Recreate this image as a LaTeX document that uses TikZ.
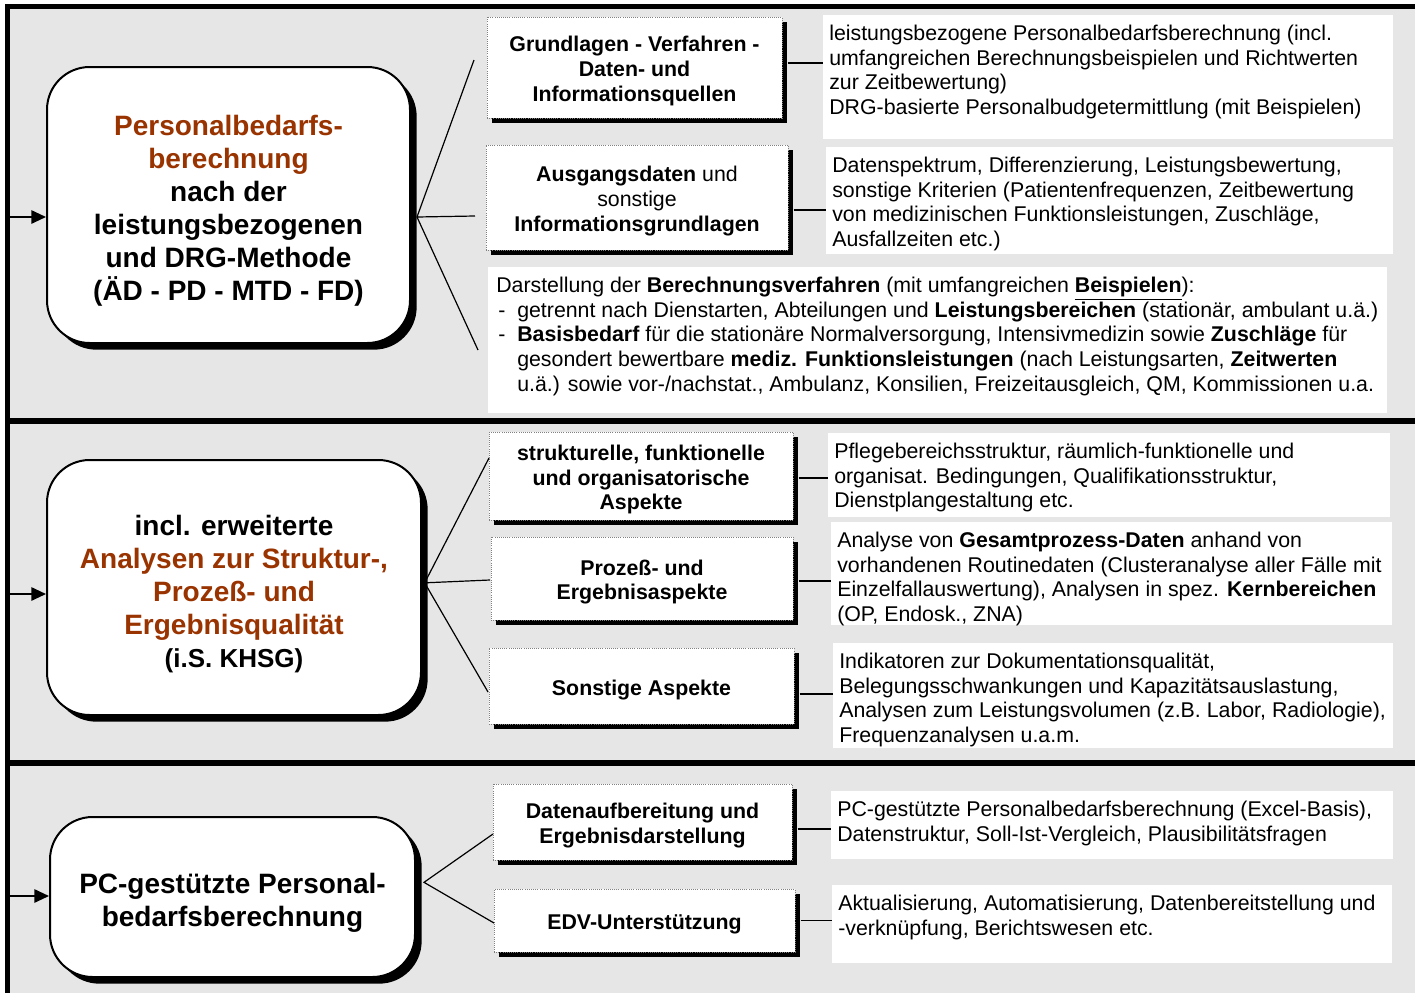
\documentclass[tikz,border=0pt]{standalone}
\usepackage{fontspec}
\setmainfont{Liberation Sans}
\usetikzlibrary{arrows.meta,shadows}
\definecolor{rust}{RGB}{153,51,0}
\definecolor{bandgray}{RGB}{230,230,230}
\newcommand{\bigtext}{\fontsize{21}{24.75}\selectfont\bfseries}
\newcommand{\smalltext}{\fontsize{16}{18.5}\selectfont}
\newcommand{\infotext}[3]{\parbox[c][#1][t]{#2}{\raggedright\rule{0pt}{19pt}#3}}
\newcommand{\listdash}{\makebox[17.25pt][l]{\hspace{3pt}-}}
\newcommand{\listind}{\hspace*{17.25pt}}
\newcommand{\boxtop}{\rule{0pt}{24.5pt}}
\newcommand{\topictop}{\rule{0pt}{17pt}}

\begin{document}
\begin{tikzpicture}[x=0.75pt, y=-0.75pt,
  mainbox/.style={draw, line width=1.5pt, fill=white, rounded corners=32pt,
    align=center, font=\bigtext,
    drop shadow={shadow xshift=5pt, shadow yshift=-5pt, fill=black, opacity=1}},
  topicbox/.style={draw=gray, densely dotted, line width=0.6pt, fill=white,
    align=center, font=\smalltext\bfseries,
    drop shadow={shadow xshift=4pt, shadow yshift=-4pt, fill=black, opacity=1}},
  infobox/.style={fill=white, anchor=north west, inner xsep=4.5pt, inner ysep=0pt,
    font=\smalltext},
  bandline/.style={line width=4pt},
  fanline/.style={line width=0.9pt},
  linkline/.style={line width=1.4pt},
  inarrow/.style={line width=1.4pt, -{Triangle[length=11pt,width=10pt]}}]

  \useasboundingbox (0,0) rectangle (1415,993);
  \fill[bandgray] (7.5,6.5) rectangle (1415,993);
  \draw[bandline] (5,6.5) -- (1415,6.5);
  \draw[bandline] (7.5,4) -- (7.5,993);
  \foreach \y in {421,763}
    \draw[bandline] (7.5,\y) -- (1415,\y);

  % band 1
  \node[mainbox, minimum width=272.25pt, minimum height=207pt] (pbox) at (228.5,205)
    {\boxtop\textcolor{rust}{Personalbedarfs-}\\\textcolor{rust}{berechnung}\\nach der\\leistungsbezogenen\\und DRG-Methode\\(ÄD - PD - MTD - FD)};
  \node[topicbox, minimum width=221.25pt, minimum height=75.75pt] (grundlagen) at (634.5,67.5)
    {\topictop Grundlagen - Verfahren -\\Daten- und\\Informationsquellen};
  \node[topicbox, minimum width=226.5pt, minimum height=78.75pt] (ausgang) at (637,197.5)
    {\topictop Ausgangsdaten \textmd{und}\\\textmd{sonstige}\\Informationsgrundlagen};
  \node[infobox] (grundlagentxt) at (823,15) {\infotext{93pt}{418.5pt}{leistungsbezogene Personalbedarfsberechnung (incl.\\umfangreichen Berechnungsbeispielen und Richtwerten\\zur Zeitbewertung)\\DRG-basierte Personalbudgetermittlung (mit Beispielen)}};
  \node[infobox] (ausgangtxt) at (826,147) {\infotext{80.25pt}{416.25pt}{Datenspektrum, Differenzierung, Leistungsbewertung,\\sonstige Kriterien (Patientenfrequenzen, Zeitbewertung\\von medizinischen Funktionsleistungen, Zuschläge,\\Ausfallzeiten etc.)}};
  \node[infobox] (verfahrentxt) at (488,267) {\infotext{109.5pt}{665.25pt}{\hspace*{1.5pt}Darstellung der \textbf{Berechnungsverfahren} (mit umfangreichen \underline{\textbf{Beispielen}}):\\
    \listdash getrennt nach Dienstarten, Abteilungen und \textbf{Leistungsbereichen} (stationär, ambulant u.ä.)\\
    \listdash\textbf{Basisbedarf} für die stationäre Normalversorgung, Intensivmedizin sowie \textbf{Zuschläge} für\\
    \listind gesondert bewertbare \textbf{mediz. Funktionsleistungen} (nach Leistungsarten, \textbf{Zeitwerten}\\
    \listind u.ä.) sowie vor-/nachstat., Ambulanz, Konsilien, Freizeitausgleich, QM, Kommissionen u.a.}};

  \coordinate (pin) at (7.5,217);
  \coordinate (pfan) at ([xshift=4.5pt,yshift=-9pt]pbox.east);
  \coordinate (pf1) at (474,60);
  \coordinate (pf2) at (475,216);
  \coordinate (pf3) at (478,350);
  \draw[inarrow] (pin) -- (pin -| pbox.west);
  \draw[fanline] (pf1) -- (pfan) -- (pf3) (pfan) -- (pf2);
  \draw[linkline] ([xshift=4pt,yshift=3.4pt]grundlagen.east) -- ([yshift=3.4pt]grundlagen.east -| grundlagentxt.west);
  \draw[linkline] ([xshift=4pt,yshift=-9.4pt]ausgang.east) -- ([yshift=-9.4pt]ausgang.east -| ausgangtxt.west);

  % band 2
  \node[mainbox, minimum width=280.5pt, minimum height=191.25pt] (abox) at (234,587.5)
    {\boxtop incl. erweiterte\\\textcolor{rust}{Analysen zur Struktur-,}\\\textcolor{rust}{Prozeß- und}\\\textcolor{rust}{Ergebnisqualität}\\{\fontsize{19.5}{24.75}\selectfont (i.S. KHSG)}};
  \node[topicbox, minimum width=228pt, minimum height=66pt] (strukturell) at (641,476)
    {\topictop strukturelle, funktionelle\\und organisatorische\\Aspekte};
  \node[topicbox, minimum width=226.5pt, minimum height=62.25pt] (prozess) at (642,578.5)
    {\topictop Prozeß- und\\Ergebnisaspekte};
  \node[topicbox, minimum width=228.75pt, minimum height=57pt] (sonstige) at (641.5,686)
    {\topictop Sonstige Aspekte};
  \node[infobox] (strukturtxt) at (828,433) {\infotext{63pt}{412.5pt}{Pflegebereichsstruktur, räumlich-funktionelle und\\organisat. Bedingungen, Qualifikationsstruktur,\\Dienstplangestaltung etc.}};
  \node[infobox] (prozesstxt) at (831,522) {\infotext{77.25pt}{411.75pt}{Analyse von \textbf{Gesamtprozess-Daten} anhand von\\vorhandenen Routinedaten (Clusteranalyse aller Fälle mit\\Einzelfallauswertung), Analysen in spez. \textbf{Kernbereichen}\\(OP, Endosk., ZNA)}};
  \node[infobox] (sonstigetxt) at (833,643) {\infotext{78.75pt}{411pt}{Indikatoren zur Dokumentationsqualität,\\Belegungsschwankungen und Kapazitätsauslastung,\\Analysen zum Leistungsvolumen (z.B. Labor, Radiologie),\\Frequenzanalysen u.a.m.}};

  \coordinate (ain) at (7.5,594);
  \coordinate (afan) at ([xshift=2pt,yshift=3.5pt]abox.east);
  \coordinate (af1) at (489,458);
  \coordinate (af2) at (490,580);
  \coordinate (af3) at (488,692);
  \draw[inarrow] (ain) -- (ain -| abox.west);
  \draw[fanline] (af1) -- (afan) -- (af3) (afan) -- (af2);
  \draw[linkline] ([xshift=4pt,yshift=-1.5pt]strukturell.east) -- ([yshift=-1.5pt]strukturell.east -| strukturtxt.west);
  \draw[linkline] ([xshift=4pt,yshift=-2pt]prozess.east) -- ([yshift=-2pt]prozess.east -| prozesstxt.west);
  \draw[linkline] ([xshift=4pt,yshift=-6pt]sonstige.east) -- ([yshift=-6pt]sonstige.east -| sonstigetxt.west);

  % band 3
  \node[mainbox, minimum width=273.75pt, minimum height=120pt] (pcbox) at (232.5,897)
    {\boxtop PC-gestützte Personal-\\bedarfsberechnung};
  \node[topicbox, minimum width=224.25pt, minimum height=57pt] (datenaufb) at (642.5,822)
    {\topictop Datenaufbereitung und\\Ergebnisdarstellung};
  \node[topicbox, minimum width=225.75pt, minimum height=47.25pt] (edv) at (644.5,920.5)
    {\topictop EDV-Unterstützung};
  \node[infobox] (datenaufbtxt) at (831,791) {\infotext{51pt}{412.5pt}{PC-gestützte Personalbedarfsberechnung (Excel-Basis),\\Datenstruktur, Soll-Ist-Vergleich, Plausibilitätsfragen}};
  \node[infobox] (edvtxt) at (832,885) {\infotext{58.5pt}{411pt}{Aktualisierung, Automatisierung, Datenbereitstellung und\\-verknüpfung, Berichtswesen etc.}};

  \coordinate (pcin) at (7.5,896);
  \coordinate (pcfan) at ([xshift=6pt,yshift=11pt]pcbox.east);
  \coordinate (pcf1) at (493,834);
  \coordinate (pcf2) at (494,923);
  \draw[inarrow] (pcin) -- (pcin -| pcbox.west);
  \draw[fanline] (pcf1) -- (pcfan) -- (pcf2);
  \draw[linkline] ([xshift=4pt,yshift=-5pt]datenaufb.east) -- ([yshift=-5pt]datenaufb.east -| datenaufbtxt.west);
  \draw[linkline] ([xshift=4pt]edv.east) -- (edv.east -| edvtxt.west);
\end{tikzpicture}
\end{document}
